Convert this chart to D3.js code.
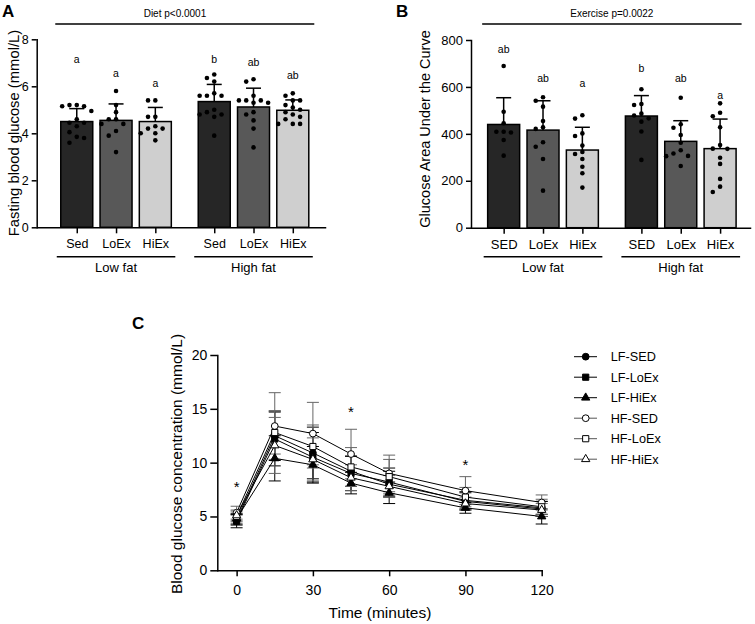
<!DOCTYPE html>
<html>
<head>
<meta charset="utf-8">
<script src="https://cdn.jsdelivr.net/npm/d3@7"></script>
<style>
  body { margin: 0; background: #fff; }
  svg { display: block; font-family: "Liberation Sans", Arial, sans-serif; }
  .axis path, .axis line { stroke: #000; stroke-width: 1.5; }
  .axis text { fill: #000; }
</style>
</head>
<body>
<svg id="fig" width="755" height="624"></svg>
<script>
// ---------------- data ----------------
const dietLabels = ['Low fat', 'High fat'];
const exLabelsA = ['Sed', 'LoEx', 'HiEx', 'Sed', 'LoEx', 'HiEx'];
const exLabelsB = ['SED', 'LoEx', 'HiEx', 'SED', 'LoEx', 'HiEx'];
const barFill = ['#262626', '#585858', '#cfcfcf', '#262626', '#585858', '#cfcfcf'];

// A: fasting blood glucose (mmol/L)
const fbgMean = [4.5, 4.55, 4.5, 5.35, 5.12, 4.98];
const fbgSD = [0.55, 0.7, 0.6, 0.73, 0.8, 0.44];
const fbgPoints = [
  [5.2, 5.15, 5.15, 5.2, 4.95, 4.6, 4.45, 4.3, 4.45, 4.05, 3.85, 3.8, 3.6],
  [5.8, 5.2, 4.9, 4.6, 4.6, 4.4, 4.4, 4.1, 3.9, 3.2],
  [5.4, 5.4, 4.7, 4.7, 4.3, 4.2, 4.2, 4.0, 4.0, 3.7],
  [6.5, 6.35, 6.2, 5.7, 5.6, 5.6, 5.6, 5.0, 4.9, 4.8, 4.8, 4.7, 3.9],
  [6.3, 6.2, 5.6, 5.4, 5.3, 5.3, 5.4, 5.4, 4.9, 4.8, 4.55, 4.2, 3.4],
  [5.7, 5.6, 5.4, 5.4, 5.2, 5.0, 5.1, 4.9, 4.8, 4.7, 4.6, 4.4, 4.4, 4.4]
];
const fbgLetters = ['a', 'a', 'a', 'b', 'ab', 'ab'];
const fbgLetterY = [7.0, 6.4, 5.97, 7.0, 6.85, 6.32];
const fbgTicks = [0, 2, 4, 6, 8];
const fbgNote = 'Diet p<0.0001';

// B: glucose AUC
const aucMean = [440, 416, 331, 476, 368, 337];
const aucSD = [114, 125, 97, 87, 88, 126];
const aucPoints = [
  [689, 494, 445, 409, 409, 406, 374, 307],
  [556, 541, 516, 455, 428, 421, 364, 345, 293, 158],
  [479, 465, 402, 391, 350, 323, 314, 293, 260, 232, 171],
  [590, 527, 523, 486, 478, 466, 452, 410, 289],
  [554, 441, 426, 395, 362, 330, 316, 306, 305, 263],
  [530, 490, 475, 428, 352, 337, 336, 298, 272, 208, 175, 152]
];
const aucLetters = ['ab', 'ab', 'a', 'b', 'ab', 'a'];
const aucLetterY = [743, 622, 600, 663, 622, 550];
const aucTicks = [0, 200, 400, 600, 800];
const aucNote = 'Exercise p=0.0022';

// C: OGTT time course
const times = [0, 15, 30, 45, 60, 90, 120];
const seriesNames = ['LF-SED', 'LF-LoEx', 'LF-HiEx', 'HF-SED', 'HF-LoEx', 'HF-HiEx'];
const seriesMeans = [
  [4.7, 12.5, 10.9, 9.2, 8.0, 6.5, 5.8],
  [4.55, 12.2, 10.5, 9.0, 8.2, 6.4, 5.7],
  [4.8, 10.4, 9.8, 8.1, 7.2, 5.8, 5.0],
  [5.35, 13.4, 12.7, 10.8, 9.0, 7.4, 6.3],
  [5.0, 12.8, 11.5, 9.6, 8.7, 6.8, 5.9],
  [5.1, 11.6, 10.3, 8.6, 7.8, 6.2, 5.6]
];
const seriesSD = [
  [0.5, 2.3, 2.4, 1.4, 1.2, 0.8, 0.6],
  [0.6, 2.5, 2.3, 1.6, 1.3, 0.8, 0.7],
  [0.5, 2.1, 1.7, 1.0, 1.0, 0.5, 0.7],
  [0.6, 3.1, 2.9, 2.3, 1.7, 1.3, 0.7],
  [0.5, 2.0, 2.0, 1.8, 1.6, 0.9, 0.7],
  [0.5, 2.6, 2.0, 1.2, 1.0, 0.6, 0.6]
];
const seriesShape = ['circle', 'square', 'triangle', 'circle', 'square', 'triangle'];
const seriesOpen = [false, false, false, true, true, true];
const starTimes = [0, 45, 90];
const starY = [8.0, 15.0, 10.1];
const glcTicks = [0, 5, 10, 15, 20];

// ---------------- drawing ----------------
const svg = d3.select('#fig');
const slot = i => i + (i >= 3 ? 0.5 : 0);

function barPanel(o) {
  const g = svg.append('g');
  const x = d3.scaleLinear().domain(o.xDomain).range(o.xRange);
  const y = d3.scaleLinear().domain([0, o.ticks[o.ticks.length - 1]]).range(o.yRange);
  const bw = 32;

  // bars
  g.selectAll('rect.bar').data(o.mean).join('rect')
    .attr('x', (d, i) => x(slot(i)) - bw / 2)
    .attr('y', d => y(d))
    .attr('width', bw)
    .attr('height', d => y(0) - y(d))
    .attr('fill', (d, i) => barFill[i])
    .attr('stroke', '#000').attr('stroke-width', 1.5);

  // error bars (upper only)
  o.mean.forEach((m, i) => {
    const cx = x(slot(i));
    g.append('line').attr('x1', cx).attr('x2', cx)
      .attr('y1', y(m)).attr('y2', y(m + o.sd[i]))
      .attr('stroke', '#000').attr('stroke-width', 1.5);
    g.append('line').attr('x1', cx - 7.5).attr('x2', cx + 7.5)
      .attr('y1', y(m + o.sd[i])).attr('y2', y(m + o.sd[i]))
      .attr('stroke', '#000').attr('stroke-width', 1.5);
  });

  // scatter of individual values, spread sideways so dots do not overlap
  o.points.forEach((vals, i) => {
    const cx = x(slot(i));
    const placed = [];
    vals.slice().sort((a, b) => b - a).forEach(v => {
      const py = y(v);
      const offs = [0, -7.3, 7.3, -14.6, 14.6, -21.9, 21.9];
      let px = cx;
      for (const dx of offs) {
        const ok = placed.every(p => Math.hypot(p[0] - (cx + dx), p[1] - py) > 6);
        if (ok) { px = cx + dx; break; }
      }
      placed.push([px, py]);
      g.append('circle').attr('cx', px).attr('cy', py).attr('r', 2.3).attr('fill', '#000');
    });
  });

  // significance letters
  g.selectAll('text.letter').data(o.letters).join('text')
    .attr('x', (d, i) => x(slot(i)))
    .attr('y', (d, i) => y(o.letterY[i]))
    .attr('text-anchor', 'middle')
    .attr('font-size', 10.5)
    .text(d => d);

  // axes
  g.append('g').attr('class', 'axis')
    .attr('transform', `translate(${o.xRange[0]},0)`)
    .call(d3.axisLeft(y).tickValues(o.ticks).tickSize(5).tickSizeOuter(0).tickPadding(3))
    .selectAll('text').attr('font-size', o.tickFont);
  g.append('g').attr('class', 'axis')
    .attr('transform', `translate(0,${o.yRange[0]})`)
    .call(d3.axisBottom(x).tickValues(d3.range(6).map(slot)).tickFormat((d, i) => o.cats[i])
      .tickSize(6).tickSizeOuter(0).tickPadding(6))
    .selectAll('text').attr('font-size', o.catFont);
  g.selectAll('.axis .domain').attr('stroke-linecap', 'square');

  // diet group lines
  [0, 1].forEach(k => {
    const x0 = x(slot(k * 3)) - 20, x1 = x(slot(k * 3 + 2)) + 20;
    g.append('line').attr('x1', x0).attr('x2', x1).attr('y1', 256.7).attr('y2', 256.7)
      .attr('stroke', '#000').attr('stroke-width', 1.5);
    g.append('text').attr('x', (x0 + x1) / 2).attr('y', 272)
      .attr('text-anchor', 'middle').attr('font-size', 13).text(dietLabels[k]);
  });

  // top p-value line
  const t0 = x(slot(0)) - 21.5, t1 = x(slot(5)) + 21.5;
  g.append('line').attr('x1', t0).attr('x2', t1).attr('y1', 24).attr('y2', 24)
    .attr('stroke', '#000').attr('stroke-width', 1.5);
  g.append('text').attr('x', o.noteX != null ? x(o.noteX) : (t0 + t1) / 2).attr('y', 17)
    .attr('text-anchor', 'middle').attr('font-size', 10).text(o.note);

  // y label and panel letter
  g.append('text').attr('transform', `translate(${o.yLabelPos[0]},${o.yLabelPos[1]}) rotate(-90)`)
    .attr('text-anchor', 'middle').attr('font-size', o.yLabelFont).text(o.yLabel);
  g.append('text').attr('x', o.tag[0]).attr('y', o.tag[1])
    .attr('font-size', 17).attr('font-weight', 'bold').text(o.tagText);
}

barPanel({
  xDomain: [-1.02, 6.32], xRange: [36.7, 325], yRange: [227.3, 39.3],
  mean: fbgMean, sd: fbgSD, points: fbgPoints, letters: fbgLetters, letterY: fbgLetterY,
  ticks: fbgTicks, cats: exLabelsA, note: fbgNote, noteX: 2.5,
  tickFont: 12.5, catFont: 12.5,
  yLabel: 'Fasting blood glucose (mmol/L)', yLabelPos: [18.5, 133], yLabelFont: 14.8,
  tag: [2, 17], tagText: 'A'
});

barPanel({
  xDomain: [-0.83, 6.26], xRange: [471, 750], yRange: [227.7, 40],
  mean: aucMean, sd: aucSD, points: aucPoints, letters: aucLetters, letterY: aucLetterY,
  ticks: aucTicks, cats: exLabelsB, note: aucNote, noteX: null,
  tickFont: 13, catFont: 13,
  yLabel: 'Glucose Area Under the Curve', yLabelPos: [430, 129], yLabelFont: 14.5,
  tag: [396, 17], tagText: 'B'
});

// ---------------- panel C ----------------
const gC = svg.append('g');
const xC = d3.scaleLinear().domain([-7.6, 120]).range([217.3, 541.7]);
const yC = d3.scaleLinear().domain([0, 20]).range([570.3, 355]);
const symType = { circle: d3.symbolCircle, square: d3.symbolSquare, triangle: d3.symbolTriangle };
const symSize = { circle: 36, square: 38, triangle: 30 };

// error bars
seriesMeans.forEach((ms, s) => {
  const col = seriesOpen[s] ? '#666' : '#000';
  ms.forEach((m, k) => {
    const cx = xC(times[k]), lo = yC(m - seriesSD[s][k]), hi = yC(m + seriesSD[s][k]);
    gC.append('line').attr('x1', cx).attr('x2', cx).attr('y1', lo).attr('y2', hi)
      .attr('stroke', col).attr('stroke-width', 1);
    [lo, hi].forEach(yy => gC.append('line').attr('x1', cx - 6).attr('x2', cx + 6)
      .attr('y1', yy).attr('y2', yy).attr('stroke', col).attr('stroke-width', 1));
  });
});

// lines
const line = d3.line().x((d, k) => xC(times[k])).y(d => yC(d));
seriesMeans.forEach((ms, s) => {
  gC.append('path').attr('d', line(ms)).attr('fill', 'none')
    .attr('stroke', '#000').attr('stroke-width', 1);
});

// markers
function marker(sel, s) {
  return sel.attr('d', d3.symbol().type(symType[seriesShape[s]]).size(symSize[seriesShape[s]])())
    .attr('fill', seriesOpen[s] ? '#fff' : '#000')
    .attr('stroke', '#000').attr('stroke-width', 1);
}
seriesMeans.forEach((ms, s) => {
  ms.forEach((m, k) => {
    marker(gC.append('path'), s).attr('transform', `translate(${xC(times[k])},${yC(m)})`);
  });
});

// stars
starTimes.forEach((t, i) => {
  gC.append('text').attr('x', xC(t)).attr('y', yC(starY[i]) + 8)
    .attr('text-anchor', 'middle').attr('font-size', 15).text('*');
});

// axes
gC.append('g').attr('class', 'axis').attr('transform', 'translate(217.3,0)')
  .call(d3.axisLeft(yC).tickValues(glcTicks).tickSize(7).tickSizeOuter(0).tickPadding(3))
  .selectAll('text').attr('font-size', 14);
gC.append('g').attr('class', 'axis').attr('transform', 'translate(0,570.3)')
  .call(d3.axisBottom(xC).tickValues(times.filter(t => t % 30 === 0)).tickSize(6).tickSizeOuter(0).tickPadding(9))
  .selectAll('text').attr('font-size', 14);
gC.selectAll('.axis .domain').attr('stroke-linecap', 'square');

gC.append('text').attr('transform', 'translate(182,464) rotate(-90)')
  .attr('text-anchor', 'middle').attr('font-size', 15.5).text('Blood glucose concentration (mmol/L)');
gC.append('text').attr('x', 380).attr('y', 618)
  .attr('text-anchor', 'middle').attr('font-size', 15.5).text('Time (minutes)');
gC.append('text').attr('x', 132).attr('y', 329)
  .attr('font-size', 17).attr('font-weight', 'bold').text('C');

// legend
seriesNames.forEach((name, s) => {
  const ly = 356.7 + s * 20.5;
  const lc = seriesOpen[s] ? '#555' : '#000';
  gC.append('line').attr('x1', 574).attr('x2', 597).attr('y1', ly).attr('y2', ly)
    .attr('stroke', lc).attr('stroke-width', 1);
  marker(gC.append('path'), s).attr('transform', `translate(585.7,${ly})`);
  gC.append('text').attr('x', 610.7).attr('y', ly).attr('dy', '0.35em')
    .attr('font-size', 12.7).text(name);
});
</script>
</body>
</html>
